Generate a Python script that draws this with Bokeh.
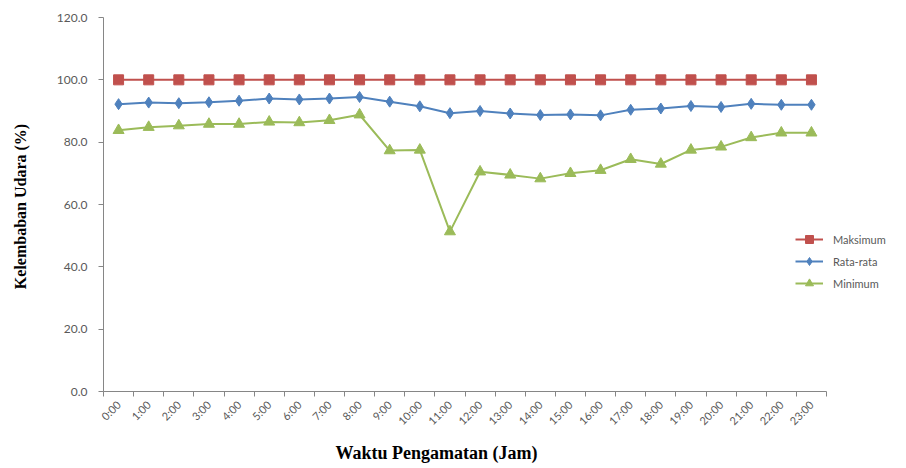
import math
from bokeh.plotting import figure
from bokeh.models import Legend, LegendItem, FixedTicker, NumeralTickFormatter, Range1d, Title
from bokeh.embed import file_html
from bokeh.resources import INLINE

hours = ["0:00", "1:00", "2:00", "3:00", "4:00", "5:00", "6:00", "7:00", "8:00", "9:00",
         "10:00", "11:00", "12:00", "13:00", "14:00", "15:00", "16:00", "17:00", "18:00",
         "19:00", "20:00", "21:00", "22:00", "23:00"]
maksimum = [100.0] * 24
rata_rata = [92.2, 92.7, 92.5, 92.8, 93.3, 94.0, 93.7, 94.0, 94.5, 93.0, 91.5, 89.3,
             90.0, 89.2, 88.7, 88.9, 88.6, 90.4, 90.8, 91.6, 91.3, 92.3, 92.0, 92.0]
minimum = [83.8, 84.8, 85.3, 85.8, 85.8, 86.5, 86.3, 87.0, 88.8, 77.3, 77.5, 51.3,
           70.5, 69.5, 68.3, 70.0, 71.0, 74.5, 73.0, 77.5, 78.5, 81.5, 83.0, 83.0]
y_ticks = [0, 20, 40, 60, 80, 100, 120]

x = list(range(len(hours)))

W, H = 906, 468
LEFT, RIGHT, TOP, BOTTOM = 103, 2, 17, 76
frame_w = W - LEFT - RIGHT
px_per_cat = (826 - 103) / len(hours)
x_end = -0.5 + frame_w / px_per_cat

p = figure(width=W, height=H, output_backend="svg", toolbar_location=None,
           min_border_left=LEFT, min_border_right=RIGHT, min_border_top=TOP,
           min_border_bottom=BOTTOM)
p.x_range = Range1d(-0.5, x_end)
p.y_range = Range1d(y_ticks[0], y_ticks[-1])
p.outline_line_color = None
p.grid.visible = False

RED = "#C0504D"
BLUE = "#4F81BD"
GREEN = "#9BBB59"

l1 = p.line(x, maksimum, line_color=RED, line_width=2)
m1 = p.scatter(x, maksimum, marker="square", size=10, fill_color=RED, line_color=RED)
l2 = p.line(x, rata_rata, line_color=BLUE, line_width=2)
m2 = p.scatter(x, rata_rata, marker="diamond", size=11, fill_color=BLUE, line_color=BLUE)
l3 = p.line(x, minimum, line_color=GREEN, line_width=2)
m3 = p.scatter(x, minimum, marker="triangle", size=11, fill_color=GREEN, line_color=GREEN)

GRAY = "#868686"
TXT = "#595959"

xa = p.xaxis[0]
xa.bounds = (-0.5, len(hours) - 0.5)
xa.ticker = FixedTicker(ticks=x, minor_ticks=[i - 0.5 for i in range(len(hours) + 1)])
xa.major_label_overrides = {i: h for i, h in zip(x, hours)}
xa.major_tick_out = 0
xa.major_tick_in = 0
xa.minor_tick_out = 5
xa.minor_tick_in = 0
xa.minor_tick_line_color = GRAY
xa.axis_line_color = GRAY
xa.major_label_orientation = math.pi / 4
xa.major_label_text_font = "Lato"
xa.major_label_text_font_size = "11px"
xa.major_label_text_color = TXT
xa.major_label_standoff = 6

xtitle = Title(text="Waktu Pengamatan  (Jam)", align="left", offset=232,
               text_font="Liberation Serif", text_font_style="bold",
               text_font_size="18px", text_color="#000000", standoff=12)
p.add_layout(xtitle, "below")

ya = p.yaxis[0]
ya.ticker = FixedTicker(ticks=y_ticks, minor_ticks=[])
ya.formatter = NumeralTickFormatter(format="0.0")
ya.major_tick_out = 5
ya.major_tick_in = 0
ya.major_tick_line_color = GRAY
ya.axis_line_color = GRAY
ya.major_label_text_font = "Lato"
ya.major_label_text_font_size = "12px"
ya.major_label_text_color = TXT
ya.major_label_standoff = 11
ya.axis_label = "Kelembaban Udara  (%)"
ya.axis_label_text_font = "Liberation Serif"
ya.axis_label_text_font_style = "bold"
ya.axis_label_text_font_size = "16px"
ya.axis_label_text_color = "#000000"
ya.axis_label_standoff = 25

legend = Legend(items=[
    LegendItem(label="Maksimum", renderers=[l1, m1]),
    LegendItem(label="Rata-rata", renderers=[l2, m2]),
    LegendItem(label="Minimum", renderers=[l3, m3]),
], location=(692, 98))
legend.background_fill_alpha = 0
legend.border_line_color = None
legend.padding = 0
legend.margin = 0
legend.spacing = 2
legend.glyph_height = 20
legend.glyph_width = 28
legend.label_standoff = 10
legend.label_text_font = "Lato"
legend.label_text_font_size = "11px"
legend.label_text_color = TXT
p.add_layout(legend)

open("out.html", "w").write(file_html(p, INLINE))
